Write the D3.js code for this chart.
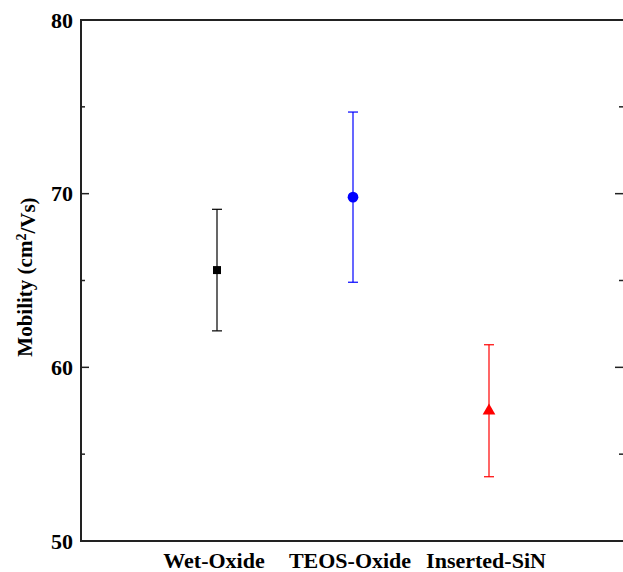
<!DOCTYPE html>
<html>
<head>
<meta charset="utf-8">
<script src="https://cdn.jsdelivr.net/npm/d3@7"></script>
<style>
  body { margin: 0; background: #fff; }
  text { font-family: "Liberation Serif", "Times New Roman", serif; font-weight: bold; }
</style>
</head>
<body>
<svg id="chart" width="623" height="572"></svg>
<script>
var categories = ["Wet-Oxide", "TEOS-Oxide", "Inserted-SiN"];
var means = [65.6, 69.8, 57.5];
var errLow = [62.1, 64.9, 53.7];
var errHigh = [69.1, 74.7, 61.3];
var colors = ["#000000", "#0000ff", "#ff0000"];
var shapes = ["square", "circle", "triangle"];
var yTicks = [50, 60, 70, 80];

var svg = d3.select("#chart"),
  mLeft = 81, mRight = 625, mTop = 20, mBottom = 541;

var x = d3.scaleLinear().domain([0, 4]).range([mLeft, mRight]);
var y = d3.scaleLinear().domain([50, 80]).range([mBottom, mTop]);

var data = categories.map(function(c, i) {
  return { name: c, i: i + 1, mean: means[i], lo: errLow[i], hi: errHigh[i], color: colors[i], shape: shapes[i] };
});

// frame
svg.append("rect")
  .attr("x", mLeft).attr("y", mTop)
  .attr("width", mRight - mLeft).attr("height", mBottom - mTop)
  .attr("fill", "none").attr("stroke", "#222").attr("stroke-width", 2);

// left ticks (inward), major + minor
var major = yTicks, minor = [55, 65, 75];
svg.append("g").selectAll("line").data(major.slice(1, -1)).enter().append("line")
  .attr("x1", mLeft).attr("x2", mLeft + 8)
  .attr("y1", y).attr("y2", y)
  .attr("stroke", "#222").attr("stroke-width", 1.5);
svg.append("g").selectAll("line").data(minor).enter().append("line")
  .attr("x1", mLeft).attr("x2", mLeft + 4)
  .attr("y1", y).attr("y2", y)
  .attr("stroke", "#222").attr("stroke-width", 1.5);
// right ticks (inward)
svg.append("g").selectAll("line").data(major.slice(1, -1)).enter().append("line")
  .attr("x1", mRight).attr("x2", mRight - 10)
  .attr("y1", y).attr("y2", y)
  .attr("stroke", "#222").attr("stroke-width", 1.5);
svg.append("g").selectAll("line").data(minor).enter().append("line")
  .attr("x1", mRight).attr("x2", mRight - 6)
  .attr("y1", y).attr("y2", y)
  .attr("stroke", "#222").attr("stroke-width", 1.5);

// tick labels
svg.append("g").selectAll("text").data(yTicks).enter().append("text")
  .attr("x", mLeft - 8).attr("y", y).attr("dy", "0.35em")
  .attr("text-anchor", "end")
  .style("font-size", "22px")
  .text(function(d) { return d; });

// category labels
svg.append("g").selectAll("text").data(data).enter().append("text")
  .attr("x", function(d) { return x(d.i) - 3; }).attr("y", 568)
  .attr("text-anchor", "middle")
  .style("font-size", "22px")
  .text(function(d) { return d.name; });

// y title
var yt = svg.append("text")
  .attr("transform", "translate(32," + y(65.2) + ") rotate(-90)")
  .attr("text-anchor", "middle")
  .style("font-size", "21px");
yt.append("tspan").text("Mobility (cm");
yt.append("tspan").attr("dy", "-0.45em").style("font-size", "14px").text("2");
yt.append("tspan").attr("dy", "0.45em").text("/Vs)");

// error bars
var eb = svg.append("g").selectAll("g").data(data).enter().append("g")
  .attr("stroke", function(d) { return d.color; })
  .attr("stroke-width", 1.2);
eb.append("line")
  .attr("x1", function(d) { return x(d.i); }).attr("x2", function(d) { return x(d.i); })
  .attr("y1", function(d) { return y(d.lo); }).attr("y2", function(d) { return y(d.hi); });
eb.append("line")
  .attr("x1", function(d) { return x(d.i) - 5; }).attr("x2", function(d) { return x(d.i) + 5; })
  .attr("y1", function(d) { return y(d.hi); }).attr("y2", function(d) { return y(d.hi); });
eb.append("line")
  .attr("x1", function(d) { return x(d.i) - 5; }).attr("x2", function(d) { return x(d.i) + 5; })
  .attr("y1", function(d) { return y(d.lo); }).attr("y2", function(d) { return y(d.lo); });

// markers
var symbolType = { square: d3.symbolSquare, circle: d3.symbolCircle, triangle: d3.symbolTriangle };
var symbolSize = { square: 64, circle: 90, triangle: 70 };
svg.append("g").selectAll("path").data(data).enter().append("path")
  .attr("transform", function(d) { return "translate(" + x(d.i) + "," + y(d.mean) + ")"; })
  .attr("d", function(d) { return d3.symbol().type(symbolType[d.shape]).size(symbolSize[d.shape])(); })
  .attr("fill", function(d) { return d.color; });
</script>
</body>
</html>
